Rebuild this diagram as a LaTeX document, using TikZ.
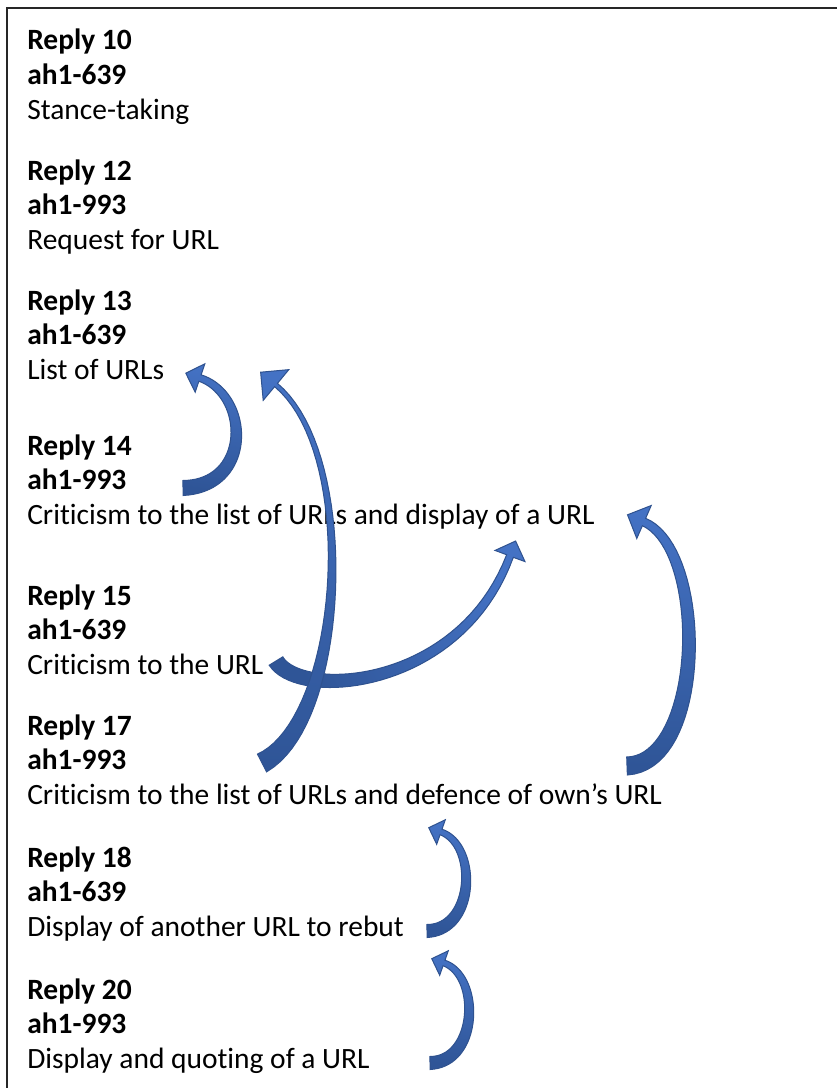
\documentclass[tikz,border=0pt]{standalone}
\usepackage{fontspec}
\setmainfont[Ligatures={NoCommon}]{Carlito}

\definecolor{arrowblue}{HTML}{4472C4}
\definecolor{arrowdark}{HTML}{2F5597}
\definecolor{arrowline}{HTML}{2F528F}

\tikzset{
  declare function={
    bz(\t,\a,\b,\c,\d)=(1-\t)*(1-\t)*(1-\t)*\a+3*(1-\t)*(1-\t)*\t*\b+3*(1-\t)*\t*\t*\c+\t*\t*\t*\d;
    dbz(\t,\a,\b,\c,\d)=3*(1-\t)*(1-\t)*(\b-\a)+6*(1-\t)*\t*(\c-\b)+3*\t*\t*(\d-\c);
  },
  txt/.style={anchor=base west, inner sep=0pt, font=\fontsize{22.1}{26.5}\selectfont},
  bfx/.style={txt, font=\fontsize{22.1}{26.5}\selectfont\bfseries},
  curvy/.style={top color=arrowblue, bottom color=arrowdark, draw=arrowline, line width=0.75pt}
}

% shaft width at the head end (fraction of the tail) and how fast it narrows
\def\tipr{0.45}
\def\tipp{1}

% tapered curved arrow: tail, two controls, head base, tail half width
\newcommand\curvarrow[9]{%
  \pgfmathsetmacro\ux{#7-#5}\pgfmathsetmacro\uy{#8-#6}%
  \pgfmathsetmacro\ul{veclen(\ux,\uy)}%
  \pgfmathsetmacro\hx{2*#9*\ux/\ul}\pgfmathsetmacro\hy{2*#9*\uy/\ul}%
  \pgfmathsetmacro\sang{atan2(#2-#8,#7-#1)-90}%
  \shadedraw[curvy, shading angle=\sang]
    plot[domain=0:1, samples=40, variable=\t]
      ({bz(\t,#1,#3,#5,#7)-#9*(\tipr+(1-\tipr)*(1-\t)^\tipp)*dbz(\t,#2,#4,#6,#8)/veclen(dbz(\t,#1,#3,#5,#7),dbz(\t,#2,#4,#6,#8))},
       {bz(\t,#2,#4,#6,#8)+#9*(\tipr+(1-\tipr)*(1-\t)^\tipp)*dbz(\t,#1,#3,#5,#7)/veclen(dbz(\t,#1,#3,#5,#7),dbz(\t,#2,#4,#6,#8))})
    -- ({#7-\hy},{#8+\hx}) -- ({#7+\hx},{#8+\hy}) -- ({#7+\hy},{#8-\hx})
    -- plot[domain=1:0, samples=40, variable=\t]
      ({bz(\t,#1,#3,#5,#7)+#9*(\tipr+(1-\tipr)*(1-\t)^\tipp)*dbz(\t,#2,#4,#6,#8)/veclen(dbz(\t,#1,#3,#5,#7),dbz(\t,#2,#4,#6,#8))},
       {bz(\t,#2,#4,#6,#8)-#9*(\tipr+(1-\tipr)*(1-\t)^\tipp)*dbz(\t,#1,#3,#5,#7)/veclen(dbz(\t,#1,#3,#5,#7),dbz(\t,#2,#4,#6,#8))})
    -- cycle;
}

\begin{document}
\begin{tikzpicture}[x=0.75pt, y=-0.75pt]
  \useasboundingbox (0,0) rectangle (837,1088);
  % frame (top and left only)
  \draw[line width=1.5pt, black!85] (7,1088) -- (7,8) -- (837,8);

  % replies
  \foreach \n/\y/\who/\what in {
      10/50/ah1-639/Stance-taking,
      12/180/ah1-993/Request for URL,
      13/310/ah1-639/List of URLs,
      14/455/ah1-993/Criticism to the list of URLs and display of a URL,
      15/605/ah1-639/Criticism to the URL,
      17/735/ah1-993/Criticism to the list of URLs and defence of own’s URL,
      18/867/ah1-639/Display of another URL to rebut,
      20/999/ah1-993/Display and quoting of a URL} {
    \node[bfx] (r\n) at (27,\y) {Reply \n};
    \node[bfx] (u\n) at (27,\y+34.5) {\who};
    \node[txt] (d\n) at (27,\y+69) {\what};
  }

  % reply 15 -> reply 14
  \curvarrow{276}{661}{300}{700}{460}{690}{510}{556}{8}
  % reply 14 -> reply 13
  \curvarrow{183}{488}{252}{486}{250}{395}{200}{378}{7.5}
  % reply 17 -> reply 13 (long, narrows fast)
  \def\tipr{0.22}\def\tipp{2}
  \curvarrow{262}{763}{345}{720}{360}{455}{276}{385}{10}
  \def\tipr{0.45}\def\tipp{1}
  % reply 17 -> reply 14
  \curvarrow{627}{766}{705}{763}{708}{550}{644}{522}{9}
  % reply 18 -> reply 17
  \curvarrow{427}{931}{475}{930}{478}{845}{441}{832}{6.5}
  % reply 20 -> reply 18
  \curvarrow{430}{1063}{478}{1062}{481}{976}{444}{963}{6.5}
\end{tikzpicture}
\end{document}
